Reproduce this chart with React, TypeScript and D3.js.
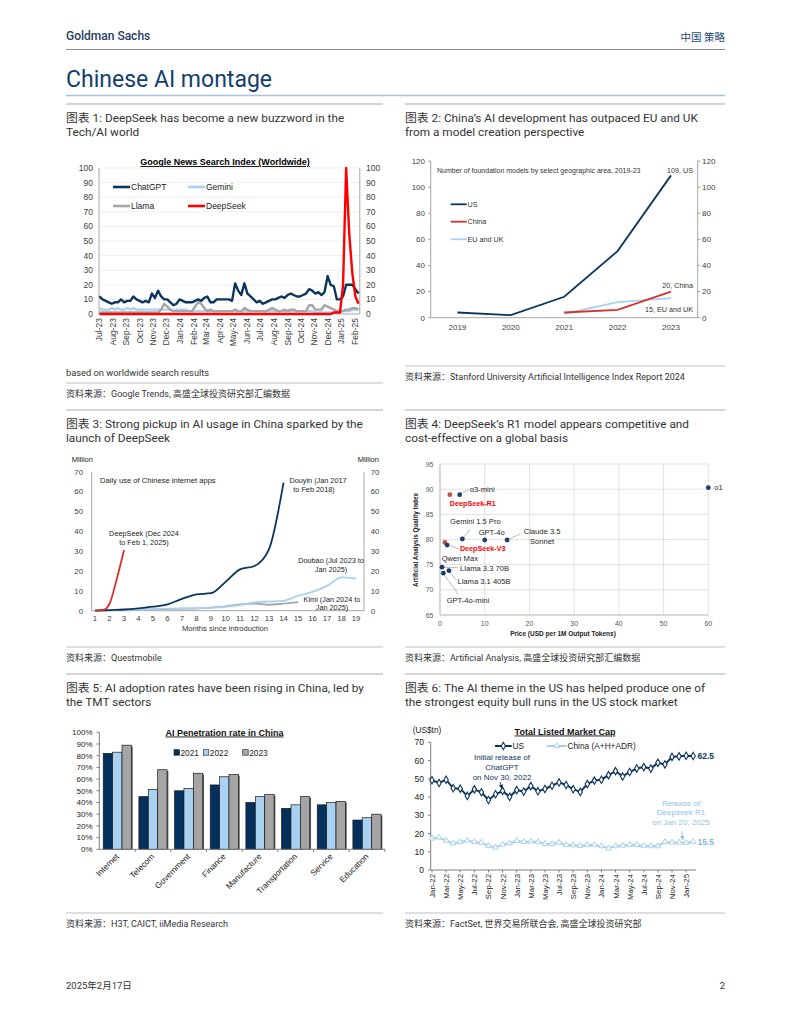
import * as React from "react";
import * as d3 from "d3";

const CHART_FONT = "'Liberation Sans', Arial, sans-serif";
const PAGE_FONT = "Roboto, 'Noto Sans CJK SC', sans-serif";
const NAVY = "#0c355e";
const SKY = "#a8d0ef";
const GREY = "#a6a6a6";
const AXIS = "#a6a6a6";
const TICK_TEXT = "#404040";

// ---- chart 1: Google News search index, weekly from 2 Jul 2023
const searchStart = new Date(2023, 6, 2);
const searchMonthLabels = [
  "Jul-23", "Aug-23", "Sep-23", "Oct-23", "Nov-23", "Dec-23", "Jan-24", "Feb-24", "Mar-24", "Apr-24",
  "May-24", "Jun-24", "Jul-24", "Aug-24", "Sep-24", "Oct-24", "Nov-24", "Dec-24", "Jan-25", "Feb-25",
];
const chatgptIndex = [
  12, 10, 9, 8, 7, 8, 8, 10, 8, 9,
  9, 12, 10, 9, 8, 9, 8, 14, 11, 16,
  12, 10, 10, 8, 6, 7, 10, 9, 8, 8,
  8, 9, 10, 9, 11, 12, 8, 8, 10, 10,
  10, 10, 10, 9, 21, 16, 13, 21, 14, 12,
  10, 8, 9, 7, 8, 9, 10, 10, 11, 12,
  11, 13, 14, 13, 12, 12, 13, 14, 17, 16,
  14, 15, 13, 15, 26, 20, 19, 10, 10, 12,
  20, 20, 20, 17, 14,
];
const geminiIndex = [
  4, 3, 3, 3, 4, 3, 4, 3, 3, 4,
  3, 4, 3, 3, 3, 3, 3, 3, 3, 3,
  3, 3, 3, 3, 2, 3, 3, 3, 3, 2,
  2, 2, 2, 2, 2, 2, 2, 2, 2, 2,
  2, 2, 2, 2, 2, 2, 2, 2, 2, 2,
  2, 2, 2, 2, 2, 2, 2, 2, 2, 2,
  2, 2, 2, 2, 2, 2, 2, 2, 2, 2,
  1, 1, 1, 1, 1, 1, 1, 1, 1, 2,
  2, 2, 3, 3, 3,
];
const llamaIndex = [
  1, 1, 1, 1, 1, 1, 1, 1, 1, 1,
  1, 1, 1, 1, 1, 1, 1, 1, 1, 1,
  3, 7, 5, 3, 2, 2, 2, 2, 2, 2,
  2, 5, 8, 7, 4, 2, 3, 2, 2, 2,
  2, 2, 2, 2, 3, 2, 2, 4, 3, 2,
  2, 2, 2, 2, 2, 3, 4, 3, 2, 2,
  3, 2, 3, 3, 2, 2, 2, 2, 6, 6,
  3, 3, 3, 6, 5, 4, 3, 2, 2, 2,
  3, 3, 4, 4, 3,
];
const deepseekIndex = [
  0, 0, 0, 0, 0, 0, 0, 0, 0, 0,
  0, 0, 0, 0, 0, 0, 0, 0, 0, 0,
  0, 0, 0, 0, 0, 0, 0, 0, 0, 0,
  0, 0, 0, 0, 0, 0, 0, 0, 0, 0,
  0, 0, 0, 0, 0, 0, 0, 0, 0, 0,
  0, 0, 0, 0, 0, 0, 0, 0, 0, 0,
  0, 0, 0, 0, 0, 0, 0, 0, 0, 0,
  0, 0, 0, 0, 0, 0, 1, 1, 1, 20,
  100, 55, 28, 12, 7,
];

// ---- chart 2: foundation models by area
const modelYears = ["2019", "2020", "2021", "2022", "2023"];
const usModels = [4, 2, 16, 51, 109];
const chinaModels = [null, null, 4, 6, 20];
const euukModels = [null, null, 3, 12, 15];

// ---- chart 3: daily users (million) by months since introduction
const douyinMonths = [1, 2, 3, 4, 5, 6, 7, 8, 9, 10, 11, 12, 13, 14];
const douyinUsers = [0, 0.3, 0.6, 1.2, 2, 3.2, 6, 8.2, 8.8, 14.5, 20.8, 22.5, 31, 64.5];
const deepseekMonths = [1, 1.5, 1.75, 2, 2.5, 3];
const deepseekUsers = [0, 0.4, 1, 3.5, 16, 30.5];
const doubaoMonths = [1, 2, 3, 4, 5, 6, 7, 8, 9, 10, 11, 12, 13, 14, 15, 16, 17, 18, 19];
const doubaoUsers = [0, 0.2, 0.4, 0.6, 0.8, 1, 1.1, 1.2, 1.5, 2, 2.8, 4.2, 4.6, 5, 7.5, 9.5, 12.5, 16.8, 16.2];
const kimiMonths = [1, 2, 3, 4, 5, 6, 7, 8, 9, 10, 11, 12, 13, 14, 15];
const kimiUsers = [0, 0.2, 0.4, 0.5, 0.7, 0.8, 1, 1.2, 1.6, 2.2, 3.2, 3.6, 3, 3.6, 4.3];
const monthTicks = d3.range(1, 20);

// ---- chart 4: price vs quality
const llmNames = [
  "o1", "o3-mini", "DeepSeek-R1", "Gemini 1.5 Pro", "GPT-4o", "Claude 3.5 Sonnet",
  "DeepSeek-V3", "Qwen Max", "Llama 3.3 70B", "Llama 3.1 405B", "GPT-4o-mini",
];
const llmPrice = [60, 4.4, 2.2, 5, 10, 15, 1.1, 1.6, 0.45, 2.0, 0.75];
const llmQuality = [90.3, 88.9, 88.9, 80.1, 79.9, 79.9, 79.4, 78.9, 74.5, 73.8, 73.3];
const llmChinese = [false, false, true, false, false, false, true, false, false, false, false];

// ---- chart 5: AI penetration by sector
const sectors = ["Internet", "Telecom", "Government", "Finance", "Manufacture", "Transportation", "Service", "Education"];
const penYears = ["2021", "2022", "2023"];
const pen2021 = [82, 45, 50, 55, 40, 35, 38, 25];
const pen2022 = [83, 51, 52, 62, 45, 38, 40, 27];
const pen2023 = [89, 68, 65, 64, 47, 45, 41, 30];

// ---- chart 6: total listed market cap, monthly Jan-22 .. Feb-25 (US$tn)
const capMonths = [
  "Jan-22", "Feb-22", "Mar-22", "Apr-22", "May-22", "Jun-22", "Jul-22", "Aug-22", "Sep-22", "Oct-22", "Nov-22", "Dec-22",
  "Jan-23", "Feb-23", "Mar-23", "Apr-23", "May-23", "Jun-23", "Jul-23", "Aug-23", "Sep-23", "Oct-23", "Nov-23", "Dec-23",
  "Jan-24", "Feb-24", "Mar-24", "Apr-24", "May-24", "Jun-24", "Jul-24", "Aug-24", "Sep-24", "Oct-24", "Nov-24", "Dec-24",
  "Jan-25", "Feb-25",
];
const usCap = [
  49.2, 47.7, 49.5, 44.8, 44.6, 40.6, 44.2, 42.6, 38.4, 41.5, 43.3, 40.1,
  43.8, 43.0, 46.0, 43.2, 44.4, 46.2, 48.0, 46.6, 44.3, 42.8, 47.1, 49.0,
  49.5, 52.0, 54.2, 51.3, 53.7, 55.6, 56.4, 55.6, 58.8, 57.9, 62.0, 62.3,
  62.6, 62.5,
];
const chinaCap = [
  17.3, 17.8, 16.1, 14.6, 15.3, 16.2, 15.4, 15.0, 13.3, 12.3, 14.0, 14.7,
  16.0, 15.4, 15.6, 15.3, 14.4, 14.2, 15.0, 13.8, 13.6, 13.3, 13.7, 13.7,
  13.1, 11.9, 13.1, 13.4, 13.8, 13.8, 13.2, 13.1, 13.1, 15.4, 15.1, 15.1,
  14.9, 15.5,
];

const panelTitles = [
  ["图表 1: DeepSeek has become a new buzzword in the", "Tech/AI world"],
  ["图表 2: China’s AI development has outpaced EU and UK", "from a model creation perspective"],
  ["图表 3: Strong pickup in AI usage in China sparked by the", "launch of DeepSeek"],
  ["图表 4: DeepSeek’s R1 model appears competitive and", "cost-effective on a global basis"],
  ["图表 5: AI adoption rates have been rising in China, led by", "the TMT sectors"],
  ["图表 6: The AI theme in the US has helped produce one of", "the strongest equity bull runs in the US stock market"],
];
const sources = [
  "资料来源：Google Trends, 高盛全球投资研究部汇编数据",
  "资料来源：Stanford University Artificial Intelligence Index Report 2024",
  "资料来源：Questmobile",
  "资料来源：Artificial Analysis, 高盛全球投资研究部汇编数据",
  "资料来源：H3T, CAICT, iiMedia Research",
  "资料来源：FactSet, 世界交易所联合会, 高盛全球投资研究部",
];

const LEFT = [66, 383];
const RIGHT = [405, 725];

function PanelHead({ x0, x1, top, lines }: { x0: number; x1: number; top: number; lines: string[] }) {
  return (
    <g fontFamily={PAGE_FONT}>
      <line x1={x0} x2={x1} y1={top} y2={top} stroke="#d4d4d4" strokeWidth={2} />
      {lines.map((l, i) => (
        <text key={i} x={x0} y={top + 18 + i * 14} fontSize={11.8} fill="#333">{l}</text>
      ))}
    </g>
  );
}

function Source({ x0, x1, line, text }: { x0: number; x1: number; line: number; text: string }) {
  return (
    <g fontFamily={PAGE_FONT}>
      <line x1={x0} x2={x1} y1={line} y2={line} stroke="#d4d4d4" strokeWidth={1.5} />
      <text x={x0} y={line + 14} fontSize={9} fill="#333">{text}</text>
    </g>
  );
}

function SearchChart() {
  const x = d3.scaleTime().domain([new Date(2023, 6, 1), new Date(2025, 1, 12)]).range([99, 359.8]);
  const y = d3.scaleLinear().domain([0, 100]).range([314, 168]);
  const dates = chatgptIndex.map((_, i) => d3.timeDay.offset(searchStart, 7 * i));
  const monthDates = d3.timeMonth.range(new Date(2023, 6, 1), new Date(2025, 1, 2));
  const path = (vals: number[]) =>
    d3.line<number>().x((_, i) => x(dates[i])).y((v) => y(Math.min(v, 100)))(vals) || "";
  const series = [
    { name: "Gemini", vals: geminiIndex, color: SKY },
    { name: "Llama", vals: llamaIndex, color: GREY },
    { name: "ChatGPT", vals: chatgptIndex, color: NAVY },
    { name: "DeepSeek", vals: deepseekIndex, color: "#ff0000" },
  ];
  const legend = [
    { name: "ChatGPT", color: NAVY, lx: 113, ly: 187 },
    { name: "Gemini", color: SKY, lx: 188, ly: 187 },
    { name: "Llama", color: GREY, lx: 113, ly: 206 },
    { name: "DeepSeek", color: "#ff0000", lx: 188, ly: 206 },
  ];
  const ticks = y.ticks(10);
  return (
    <g fontFamily={CHART_FONT}>
      <text x={225} y={165} textAnchor="middle" fontSize={9} fontWeight="bold" style={{ textDecoration: "underline" }}>
        Google News Search Index (Worldwide)
      </text>
      {ticks.map((t) => (
        <g key={t}>
          {t > 0 && <line x1={99} x2={359.8} y1={y(t)} y2={y(t)} stroke="#efefef" />}
          <text x={93} y={y(t) + 3} textAnchor="end" fontSize={8.5} fill={TICK_TEXT}>{t}</text>
          <text x={366} y={y(t) + 3} fontSize={8.5} fill={TICK_TEXT}>{t}</text>
        </g>
      ))}
      <line x1={99} x2={99} y1={168} y2={314} stroke={AXIS} />
      <line x1={359.8} x2={359.8} y1={168} y2={314} stroke={AXIS} />
      <line x1={99} x2={359.8} y1={314} y2={314} stroke={AXIS} />
      {series.map((s) => (
        <path key={s.name} d={path(s.vals)} fill="none" stroke={s.color} strokeWidth={2.4} strokeLinejoin="round" />
      ))}
      {monthDates.map((d, i) => (
        <text key={i} transform={`translate(${x(d) + 3},${318}) rotate(-90)`} textAnchor="end" fontSize={8.5} fill={TICK_TEXT}>
          {searchMonthLabels[i]}
        </text>
      ))}
      {legend.map((l) => (
        <g key={l.name}>
          <line x1={l.lx} x2={l.lx + 17} y1={l.ly} y2={l.ly} stroke={l.color} strokeWidth={2.6} />
          <text x={l.lx + 18} y={l.ly + 3} fontSize={8.5} fill="#222">{l.name}</text>
        </g>
      ))}
    </g>
  );
}

function ModelsChart() {
  const x = d3.scalePoint<string>().domain(modelYears).range([430.7, 697.7]).padding(0.5);
  const y = d3.scaleLinear().domain([0, 120]).range([317.7, 161]);
  const mk = (vals: (number | null)[]) =>
    d3.line<number | null>()
      .defined((v) => v != null)
      .x((_, i) => x(modelYears[i])!)
      .y((v) => y(v as number))(vals) || "";
  const legend = [
    { name: "US", color: NAVY, ly: 204.3 },
    { name: "China", color: "#d9302c", ly: 221.7 },
    { name: "EU and UK", color: SKY, ly: 239.3 },
  ];
  return (
    <g fontFamily={CHART_FONT}>
      {y.ticks(6).map((t) => (
        <g key={t}>
          <line x1={428} x2={430.7} y1={y(t)} y2={y(t)} stroke={AXIS} />
          <line x1={697.7} x2={700.4} y1={y(t)} y2={y(t)} stroke={AXIS} />
          <text x={425} y={y(t) + 2.8} textAnchor="end" fontSize={8} fill={TICK_TEXT}>{t}</text>
          <text x={702} y={y(t) + 2.8} fontSize={8} fill={TICK_TEXT}>{t}</text>
        </g>
      ))}
      <line x1={430.7} x2={430.7} y1={161} y2={317.7} stroke={AXIS} />
      <line x1={697.7} x2={697.7} y1={161} y2={317.7} stroke={AXIS} />
      <line x1={430.7} x2={697.7} y1={317.7} y2={317.7} stroke={AXIS} />
      {modelYears.map((yr) => (
        <text key={yr} x={x(yr)} y={329.5} textAnchor="middle" fontSize={8} fill={TICK_TEXT}>{yr}</text>
      ))}
      <text x={437} y={172.5} fontSize={7} fill="#333">Number of foundation models by select geographic area, 2019-23</text>
      <path d={mk(euukModels)} fill="none" stroke={SKY} strokeWidth={1.8} />
      <path d={mk(chinaModels)} fill="none" stroke="#d9302c" strokeWidth={1.8} />
      <path d={mk(usModels)} fill="none" stroke={NAVY} strokeWidth={1.8} />
      {legend.map((l) => (
        <g key={l.name}>
          <line x1={450.7} x2={466.7} y1={l.ly} y2={l.ly} stroke={l.color} strokeWidth={1.8} />
          <text x={467.5} y={l.ly + 2.5} fontSize={7.2} fill="#333">{l.name}</text>
        </g>
      ))}
      <text x={693} y={172.5} textAnchor="end" fontSize={7.2} fill="#333">{`${usModels[4]}, US`}</text>
      <text x={693} y={287.5} textAnchor="end" fontSize={7.2} fill="#333">{`${chinaModels[4]}, China`}</text>
      <text x={693} y={311.5} textAnchor="end" fontSize={7.2} fill="#333">{`${euukModels[4]}, EU and UK`}</text>
    </g>
  );
}

function UsersChart() {
  const x = d3.scaleLinear().domain([0.77, 19.55]).range([91.7, 364]);
  const y = d3.scaleLinear().domain([0, 70]).range([610.7, 471.7]);
  const mk = (ms: number[], vs: number[]) =>
    d3.line<number>().curve(d3.curveMonotoneX).x((_, i) => x(ms[i])).y((v) => y(v))(vs) || "";
  return (
    <g fontFamily={CHART_FONT}>
      <text x={71.7} y={461.5} fontSize={7.5} fill="#222">Million</text>
      <text x={357.7} y={461.5} fontSize={7.5} fill="#222">Million</text>
      {y.ticks(7).map((t) => (
        <g key={t}>
          <text x={83} y={y(t) + 2.8} textAnchor="end" fontSize={7.8} fill={TICK_TEXT}>{t}</text>
          <text x={370.7} y={y(t) + 2.8} fontSize={7.8} fill={TICK_TEXT}>{t}</text>
        </g>
      ))}
      <line x1={91.7} x2={91.7} y1={471.7} y2={610.7} stroke={AXIS} />
      <line x1={364} x2={364} y1={471.7} y2={610.7} stroke={AXIS} />
      <line x1={91.7} x2={364} y1={610.7} y2={610.7} stroke={AXIS} />
      {monthTicks.map((m) => (
        <text key={m} x={x(m)} y={621} textAnchor="middle" fontSize={7.8} fill={TICK_TEXT}>{m}</text>
      ))}
      <text x={225} y={631} textAnchor="middle" fontSize={7.6} fill="#333">Months since introduction</text>
      <text x={100} y={482.5} fontSize={7.6} fill="#222">Daily use of Chinese internet apps</text>
      <path d={mk(kimiMonths, kimiUsers)} fill="none" stroke={GREY} strokeWidth={1.8} />
      <path d={mk(doubaoMonths, doubaoUsers)} fill="none" stroke={SKY} strokeWidth={1.8} />
      <path d={mk(douyinMonths, douyinUsers)} fill="none" stroke={NAVY} strokeWidth={1.8} />
      <path d={mk(deepseekMonths, deepseekUsers)} fill="none" stroke="#d9302c" strokeWidth={1.8} />
      <g fontSize={7.3} fill="#222" textAnchor="middle">
        <text x={318} y={482.5}>Douyin (Jan 2017</text>
        <text x={314} y={492}>to Feb 2018)</text>
        <text x={144} y={535.5}>DeepSeek (Dec 2024</text>
        <text x={144} y={545}>to Feb 1, 2025)</text>
        <text x={331} y={562.5}>Doubao (Jul 2023 to</text>
        <text x={331} y={572}>Jan 2025)</text>
        <text x={332} y={601.5}>Kimi (Jan 2024 to</text>
        <text x={332} y={610}>Jan 2025)</text>
      </g>
    </g>
  );
}

// label placement for chart 4 (offsets from the point, px)
const llmLabelPlace: Record<string, { dx: number; dy: number; anchor: string; leader?: [number, number, number, number] }> = {
  "o1": { dx: 6, dy: 2.8, anchor: "start" },
  "o3-mini": { dx: 10, dy: -2.5, anchor: "start", leader: [2, -1.5, 9, -5] },
  "DeepSeek-R1": { dx: 0, dy: 11, anchor: "start" },
  "Gemini 1.5 Pro": { dx: 13, dy: -15, anchor: "middle", leader: [1.5, -2, 8, -10] },
  "GPT-4o": { dx: 7, dy: -5, anchor: "middle" },
  "Claude 3.5 Sonnet": { dx: 35, dy: -6, anchor: "middle", leader: [2, -1, 13, -6] },
  "DeepSeek-V3": { dx: 15, dy: 8.7, anchor: "start", leader: [1.5, 1.5, 14, 6.5] },
  "Qwen Max": { dx: -5.5, dy: 16, anchor: "start" },
  "Llama 3.3 70B": { dx: 18, dy: 3.5, anchor: "start", leader: [2, 0, 16, 0.5] },
  "Llama 3.1 405B": { dx: 8.5, dy: 13.7, anchor: "start", leader: [1, 1.5, 7, 9] },
  "GPT-4o-mini": { dx: 3.3, dy: 30, anchor: "start", leader: [1, 2, 15, 21] },
};

function PriceChart() {
  const x = d3.scaleLinear().domain([0, 60]).range([440, 708.3]);
  const y = d3.scaleLinear().domain([65, 95]).range([615, 464]);
  return (
    <g fontFamily={CHART_FONT}>
      {x.ticks(6).map((t) => (
        <g key={t}>
          <line x1={x(t)} x2={x(t)} y1={464} y2={615} stroke="#d9d9d9" strokeWidth={0.8} />
          <text x={x(t)} y={625.5} textAnchor="middle" fontSize={7} fill="#595959">{t}</text>
        </g>
      ))}
      {y.ticks(6).map((t) => (
        <g key={t}>
          <line x1={440} x2={708.3} y1={y(t)} y2={y(t)} stroke="#d9d9d9" strokeWidth={0.8} />
          <text x={433.5} y={y(t) + 2.5} textAnchor="end" fontSize={7} fill="#595959">{t}</text>
        </g>
      ))}
      <line x1={440} x2={708.3} y1={615} y2={615} stroke="#bfbfbf" />
      <line x1={440} x2={440} y1={464} y2={615} stroke="#bfbfbf" />
      <text x={563} y={635.5} textAnchor="middle" fontSize={6.5} fontWeight="bold" fill="#222">
        Price (USD per 1M Output Tokens)
      </text>
      <text transform="translate(418,540) rotate(-90)" textAnchor="middle" fontSize={6.3} fontWeight="bold" fill="#222">
        Artificial Analysis Quality Index
      </text>
      {llmNames.map((n, i) => {
        const px = x(llmPrice[i]);
        const py = y(llmQuality[i]);
        const p = llmLabelPlace[n];
        const red = llmChinese[i];
        const lines = n === "Claude 3.5 Sonnet" ? ["Claude 3.5", "Sonnet"] : [n];
        return (
          <g key={n}>
            {p.leader && (
              <line x1={px + p.leader[0]} y1={py + p.leader[1]} x2={px + p.leader[2]} y2={py + p.leader[3]} stroke="#8c8c8c" strokeWidth={0.6} />
            )}
            <circle cx={px} cy={py} r={2.4} fill={red ? "#c0504d" : "#1b3f6b"} />
            {lines.map((l, k) => (
              <text key={k} x={px + p.dx} y={py + p.dy + k * 9.5} textAnchor={p.anchor as any}
                fontSize={red ? 7.2 : 7.6} fontWeight={red ? "bold" : "normal"} fill={red ? "#ff0000" : "#262626"}>
                {l}
              </text>
            ))}
          </g>
        );
      })}
    </g>
  );
}

function PenetrationChart() {
  const x0 = d3.scaleBand<string>().domain(sectors).range([99.3, 385]).paddingInner(0.21).paddingOuter(0.11);
  const x1 = d3.scaleBand<string>().domain(penYears).range([0, x0.bandwidth()]);
  const y = d3.scaleLinear().domain([0, 100]).range([849.3, 732.3]);
  const vals = [pen2021, pen2022, pen2023];
  const fills = ["#04305e", "#a9d1f2", "#a5a5a5"];
  const legendX = [174, 203.3, 242.7];
  return (
    <g fontFamily={CHART_FONT}>
      {y.ticks(10).map((t) => (
        <g key={t}>
          <line x1={96.5} x2={99.3} y1={y(t)} y2={y(t)} stroke="#7f7f7f" />
          <text x={92.5} y={y(t) + 2.8} textAnchor="end" fontSize={8} fill="#222">{`${t}%`}</text>
        </g>
      ))}
      {sectors.map((s, ci) => (
        <g key={s}>
          {penYears.map((yr, j) => {
            const bx = x0(s)! + x1(yr)!;
            const by = y(vals[j][ci]);
            const h = 849.3 - by;
            return (
              <g key={yr}>
                <rect x={bx + 1.3} y={by + 1.3} width={x1.bandwidth()} height={h - 1.3} fill="#5a5a5a" />
                <rect x={bx} y={by} width={x1.bandwidth()} height={h} fill={fills[j]} stroke="#1a1a1a" strokeWidth={0.7} />
              </g>
            );
          })}
          <text transform={`translate(${x0(s)! + x0.bandwidth() / 2 + 2},${857}) rotate(-45)`} textAnchor="end" fontSize={8.3} fill="#222">
            {s}
          </text>
        </g>
      ))}
      <line x1={99.3} x2={99.3} y1={732.3} y2={849.3} stroke="#7f7f7f" />
      <line x1={99.3} x2={385} y1={849.3} y2={849.3} stroke="#7f7f7f" />
      {sectors.map((s) => (
        <line key={s} x1={x0(s)! + x0.bandwidth() + x0.step() * 0.105} x2={x0(s)! + x0.bandwidth() + x0.step() * 0.105} y1={849.3} y2={852} stroke="#7f7f7f" />
      ))}
      <text x={224.5} y={735.5} textAnchor="middle" fontSize={9} fontWeight="bold" fill="#111" style={{ textDecoration: "underline" }}>
        AI Penetration rate in China
      </text>
      {penYears.map((yr, j) => (
        <g key={yr}>
          <rect x={legendX[j]} y={749.7} width={5.5} height={5.5} fill={fills[j]} stroke="#1a1a1a" strokeWidth={0.6} />
          <text x={legendX[j] + 6.5} y={755.5} fontSize={8.3} fill="#222">{yr}</text>
        </g>
      ))}
    </g>
  );
}

function MarketCapChart() {
  const x = d3.scaleLinear().domain([0, capMonths.length - 1]).range([432, 693.2]);
  const y = d3.scaleLinear().domain([0, 70]).range([870, 742.3]);
  const mk = (vals: number[]) => d3.line<number>().x((_, i) => x(i)).y((v) => y(v))(vals) || "";
  const diamond = d3.symbol().type(d3.symbolDiamond).size(16)() || "";
  const triangle = d3.symbol().type(d3.symbolTriangle).size(14)() || "";
  const ANNOT_BLUE = "#8fc1ea";
  return (
    <g fontFamily={CHART_FONT}>
      <defs>
        <marker id="arrN" viewBox="0 0 6 6" refX={5} refY={3} markerWidth={5} markerHeight={5} orient="auto">
          <path d="M0,0 L6,3 L0,6 Z" fill={NAVY} />
        </marker>
        <marker id="arrB" viewBox="0 0 6 6" refX={5} refY={3} markerWidth={5} markerHeight={5} orient="auto">
          <path d="M0,0 L6,3 L0,6 Z" fill={ANNOT_BLUE} />
        </marker>
      </defs>
      <text x={412.7} y={733} fontSize={8.3} fill="#222">(US$tn)</text>
      <text x={565} y={734.5} textAnchor="middle" fontSize={9} fontWeight="bold" fill="#111" style={{ textDecoration: "underline" }}>
        Total Listed Market Cap
      </text>
      {y.ticks(7).map((t) => (
        <g key={t}>
          <line x1={428} x2={430.7} y1={y(t)} y2={y(t)} stroke="#7f7f7f" />
          <text x={424} y={y(t) + 3} textAnchor="end" fontSize={8.5} fill="#222">{t}</text>
        </g>
      ))}
      <line x1={430.7} x2={430.7} y1={742.3} y2={870} stroke="#7f7f7f" />
      <line x1={430.7} x2={696} y1={870} y2={870} stroke="#7f7f7f" />
      {capMonths.map((m, i) =>
        i % 2 === 0 ? (
          <g key={m}>
            <line x1={x(i)} x2={x(i)} y1={870} y2={872.5} stroke="#7f7f7f" />
            <text transform={`translate(${x(i) + 3},${874}) rotate(-90)`} textAnchor="end" fontSize={7.8} fill="#222">{m}</text>
          </g>
        ) : null
      )}
      <path d={mk(chinaCap)} fill="none" stroke={SKY} strokeWidth={2} />
      {chinaCap.map((v, i) => (
        <path key={i} d={triangle} transform={`translate(${x(i)},${y(v)})`} fill="#fff" stroke={SKY} strokeWidth={1} />
      ))}
      <path d={mk(usCap)} fill="none" stroke={NAVY} strokeWidth={2} />
      {usCap.map((v, i) => (
        <path key={i} d={diamond} transform={`translate(${x(i)},${y(v)})`} fill="#fff" stroke={NAVY} strokeWidth={1.1} />
      ))}
      <text x={697.5} y={y(usCap[usCap.length - 1]) + 3} fontSize={8.5} fontWeight="bold" fill={NAVY}>
        {usCap[usCap.length - 1].toFixed(1)}
      </text>
      <text x={697.5} y={y(chinaCap[chinaCap.length - 1]) + 3} fontSize={8.5} fontWeight="bold" fill="#7fb6e4">
        {chinaCap[chinaCap.length - 1].toFixed(1)}
      </text>
      <g>
        <line x1={495} x2={511.7} y1={746} y2={746} stroke={NAVY} strokeWidth={2} />
        <path d={diamond} transform="translate(503.3,746)" fill="#fff" stroke={NAVY} strokeWidth={1.1} />
        <text x={512.5} y={749} fontSize={8.3} fill="#222">US</text>
        <line x1={546.7} x2={566.7} y1={746} y2={746} stroke={SKY} strokeWidth={2} />
        <path d={triangle} transform="translate(556.7,746)" fill="#fff" stroke={SKY} strokeWidth={1} />
        <text x={567.5} y={749} fontSize={8.3} fill="#222">China (A+H+ADR)</text>
      </g>
      <g fontSize={8} fill={NAVY} textAnchor="middle">
        <text x={502} y={759.5}>Initial release of</text>
        <text x={502} y={769.5}>ChatGPT</text>
        <text x={502} y={779.5}>on Nov 30, 2022</text>
      </g>
      <line x1={500} y1={782} x2={x(10) - 0.5} y2={y(usCap[10]) - 2.5} stroke={NAVY} strokeWidth={0.9} markerEnd="url(#arrN)" />
      <g fontSize={8} fill={ANNOT_BLUE} textAnchor="middle">
        <text x={681} y={805.5}>Release of</text>
        <text x={681} y={815}>Deepseek R1</text>
        <text x={681} y={825}>on Jan 20, 2025</text>
      </g>
      <line x1={681.7} y1={831} x2={682.7} y2={839.5} stroke={ANNOT_BLUE} strokeWidth={0.9} markerEnd="url(#arrB)" />
    </g>
  );
}

export default function App() {
  return (
    <svg width={791} height={1024} viewBox="0 0 791 1024" style={{ position: "absolute", left: 0, top: 0, background: "#fff" }}>
      <rect x={0} y={0} width={791} height={1024} fill="#fff" />
      <g fontFamily={PAGE_FONT}>
        <text x={66} y={40} fontSize={12} fill="#1f3d66" fontWeight={500}>Goldman Sachs</text>
        <text x={725} y={41} textAnchor="end" fontSize={10.5} fill="#1f4a7a">中国 策略</text>
        <line x1={66} x2={725} y1={49.5} y2={49.5} stroke="#8c8c8c" strokeWidth={1} />
        <text x={66} y={87} fontSize={23} fill="#123e6e">Chinese AI montage</text>
        <line x1={66} x2={725} y1={95.5} y2={95.5} stroke="#a9c2da" strokeWidth={1.5} />
        <text x={66} y={376} fontSize={9.3} fill="#333">based on worldwide search results</text>
        <text x={66} y={989} fontSize={9.5} fill="#333">2025年2月17日</text>
        <text x={725} y={989} textAnchor="end" fontSize={9.5} fill="#333">2</text>
      </g>
      <PanelHead x0={LEFT[0]} x1={LEFT[1]} top={104} lines={panelTitles[0]} />
      <PanelHead x0={RIGHT[0]} x1={RIGHT[1]} top={104} lines={panelTitles[1]} />
      <PanelHead x0={LEFT[0]} x1={LEFT[1]} top={410} lines={panelTitles[2]} />
      <PanelHead x0={RIGHT[0]} x1={RIGHT[1]} top={410} lines={panelTitles[3]} />
      <PanelHead x0={LEFT[0]} x1={LEFT[1]} top={674} lines={panelTitles[4]} />
      <PanelHead x0={RIGHT[0]} x1={RIGHT[1]} top={674} lines={panelTitles[5]} />
      <Source x0={LEFT[0]} x1={LEFT[1]} line={383} text={sources[0]} />
      <Source x0={RIGHT[0]} x1={RIGHT[1]} line={366} text={sources[1]} />
      <Source x0={LEFT[0]} x1={LEFT[1]} line={647} text={sources[2]} />
      <Source x0={RIGHT[0]} x1={RIGHT[1]} line={647} text={sources[3]} />
      <Source x0={LEFT[0]} x1={LEFT[1]} line={913} text={sources[4]} />
      <Source x0={RIGHT[0]} x1={RIGHT[1]} line={913} text={sources[5]} />
      <SearchChart />
      <ModelsChart />
      <UsersChart />
      <PriceChart />
      <PenetrationChart />
      <MarketCapChart />
    </svg>
  );
}
